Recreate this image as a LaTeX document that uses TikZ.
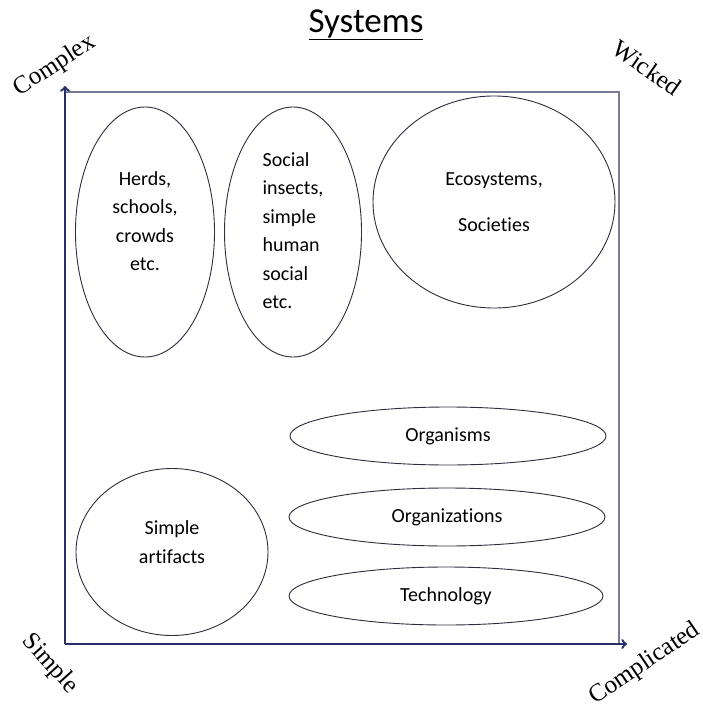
\documentclass[tikz,border=0pt]{standalone}
\usepackage{fontspec}
\usepackage{tikz}
\usetikzlibrary{
    arrows,
    shapes,
    calc,
    positioning
}
\newfontfamily\bodyfont[Ligatures=NoCommon]{Carlito}
\newfontfamily\cornerfont{Liberation Serif}
\definecolor{axisnavy}{RGB}{40,48,105}
\definecolor{framegray}{RGB}{120,122,150}
\definecolor{blobline}{RGB}{45,45,60}

\begin{document}
\begin{tikzpicture}[x=1pt, y=-1pt,
                        blob/.style={ellipse, draw=blobline, line width=0.9pt, inner sep=0pt, align=center,
                            font=\bodyfont\fontsize{20}{28.5}\selectfont},
                        corner/.style={inner sep=1pt, font=\cornerfont\fontsize{25}{25}\selectfont},
                        axis/.style={draw=axisnavy, line width=2.4pt, ->},
                        frame/.style={draw=framegray, line width=1.4pt}]
                        \useasboundingbox (0, 0) rectangle (703, 712);

                        \node[font=\bodyfont\fontsize{35}{35}\selectfont] (title) at (366, 25) {\underline{Systems}};

                        \coordinate (origin) at (65, 644);
                        \coordinate (ytop) at (65, 86);
                        \coordinate (xend) at (627, 644);
                        \coordinate (topleft) at (65, 92);
                        \coordinate (topright) at (619, 92);
                        \coordinate (botright) at (619, 644);

                        \node[corner, rotate=33] (complex) at (55, 66) {Complex};
                        \node[corner, rotate=-35] (wicked) at (647, 68) {Wicked};
                        \node[corner, rotate=-48] (simple) at (50, 664) {Simple};
                        \node[corner, rotate=34] (complicated) at (645, 664) {Complicated};

                        \node[blob, minimum width=139pt, minimum height=250pt, text depth=22pt] (herds) at (145, 232) {Herds,\\schools,\\crowds\\etc.};
                        \node[blob, minimum width=137pt, minimum height=250pt] (insects) at (293, 232) {\begin{tabular}{@{}l@{}}Social\\insects,\\simple\\human\\social\\etc.\end{tabular}};
                        \node[blob, minimum width=242pt, minimum height=212pt] (eco) at (494, 202) {Ecosystems,\\[17pt]Societies};
                        \node[blob, minimum width=316pt, minimum height=58pt] (organisms) at (448, 436) {Organisms};
                        \node[blob, minimum width=316pt, minimum height=58pt] (organizations) at (447, 517) {Organizations};
                        \node[blob, minimum width=314pt, minimum height=58pt] (technology) at (446, 596) {Technology};
                        \node[blob, minimum width=192pt, minimum height=167pt, text depth=20pt] (artifacts) at (172, 552) {Simple\\artifacts};

                        \draw[frame] (topleft) -- (topright) -- (botright);
                        \draw[axis] (origin) -- (ytop);
                        \draw[axis] (origin) -- (xend);
                    \end{tikzpicture}
\end{document}
